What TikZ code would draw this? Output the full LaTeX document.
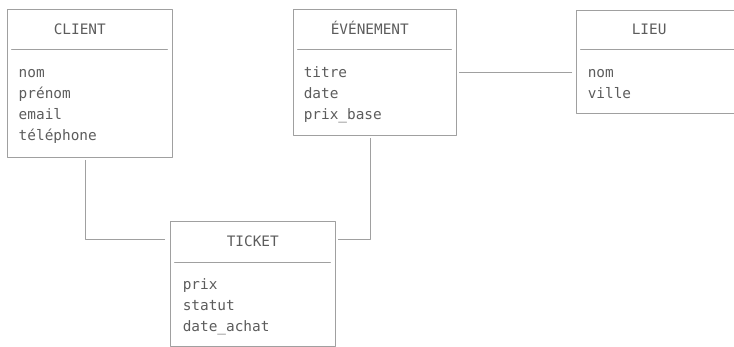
\documentclass[tikz,border=0pt]{standalone}
\usepackage{fontspec}
\setmonofont{DejaVu Sans Mono}
\usetikzlibrary{positioning}

\begin{document}
\begin{tikzpicture}[x=1pt, y=-1pt, line cap=round, line join=round]
		
		% Colors
		\definecolor{FrameGray}{RGB}{160,160,160}
		\definecolor{TextGray}{RGB}{92,92,92}
		
		% Styles
		\tikzset{
			entity/.style={
				draw=FrameGray, line width=0.9pt, inner sep=0pt,
				minimum width=165pt
			},
			title/.style={
				font=\ttfamily\fontsize{14.4}{17}\selectfont, text=TextGray,
				inner sep=0pt, anchor=base west
			},
			attr/.style={title},
			sep/.style={draw=FrameGray, line width=0.9pt},
			link/.style={draw=FrameGray, line width=0.9pt}
		}
		
		\useasboundingbox (0,0) rectangle (734,347);
		\clip (0,0) rectangle (734,347);
		
		% Boxes
		\node[entity, minimum height=148pt] (client) at (89.5,83) {};
		\node[entity, minimum width=163pt, minimum height=126pt] (event) at (374.5,72) {};
		\node[entity, minimum width=170pt, minimum height=103pt] (lieu) at (661,61.5) {};
		\node[entity, minimum height=125pt] (ticket) at (252.5,283.5) {};
		
		% Titles
		\node[title] (client-title) at ([xshift=47pt, yshift=-26pt]client.north west) {CLIENT};
		\node[title] (event-title) at ([xshift=38pt, yshift=-26pt]event.north west) {ÉVÉNEMENT};
		\node[title] (lieu-title) at ([xshift=56pt, yshift=-25pt]lieu.north west) {LIEU};
		\node[title] (ticket-title) at ([xshift=57pt, yshift=-26pt]ticket.north west) {TICKET};
		
		% Separators
		\draw[sep] ([xshift=5pt, yshift=-41pt]client.north west) -- ([xshift=-5pt, yshift=-41pt]client.north east);
		\draw[sep] ([xshift=5pt, yshift=-41pt]event.north west) -- ([xshift=-5pt, yshift=-41pt]event.north east);
		\draw[sep] ([xshift=5pt, yshift=-40pt]lieu.north west) -- ([xshift=-5pt, yshift=-40pt]lieu.north east);
		\draw[sep] ([xshift=5pt, yshift=-42pt]ticket.north west) -- ([xshift=-5pt, yshift=-42pt]ticket.north east);
		
		% Attributes
		\foreach \a [count=\i] in {nom, prénom, email, téléphone}
		\node[attr] (client-\i) at ([xshift=12pt, yshift={-68.5pt-21.2pt*(\i-1)}]client.north west) {\a};
		\foreach \a [count=\i] in {titre, date, prix\_base}
		\node[attr] (event-\i) at ([xshift=11pt, yshift={-68.5pt-21.2pt*(\i-1)}]event.north west) {\a};
		\foreach \a [count=\i] in {nom, ville}
		\node[attr] (lieu-\i) at ([xshift=12pt, yshift={-67.5pt-21.2pt*(\i-1)}]lieu.north west) {\a};
		\foreach \a [count=\i] in {prix, statut, date\_achat}
		\node[attr] (ticket-\i) at ([xshift=13pt, yshift={-69pt-20.9pt*(\i-1)}]ticket.north west) {\a};
		
		% Links
		\draw[link] ([xshift=-4.5pt, yshift=-3pt]client.south) |- ([xshift=-5pt, yshift=-19pt]ticket.north west);
		\draw[link] ([xshift=-4pt, yshift=-3pt]event.south) |- ([xshift=3pt, yshift=-19pt]ticket.north east);
		\draw[link] ([xshift=3pt, yshift=-64pt]event.north east) -- ([xshift=-4pt, yshift=-63pt]lieu.north west);
		
	\end{tikzpicture}
\end{document}
